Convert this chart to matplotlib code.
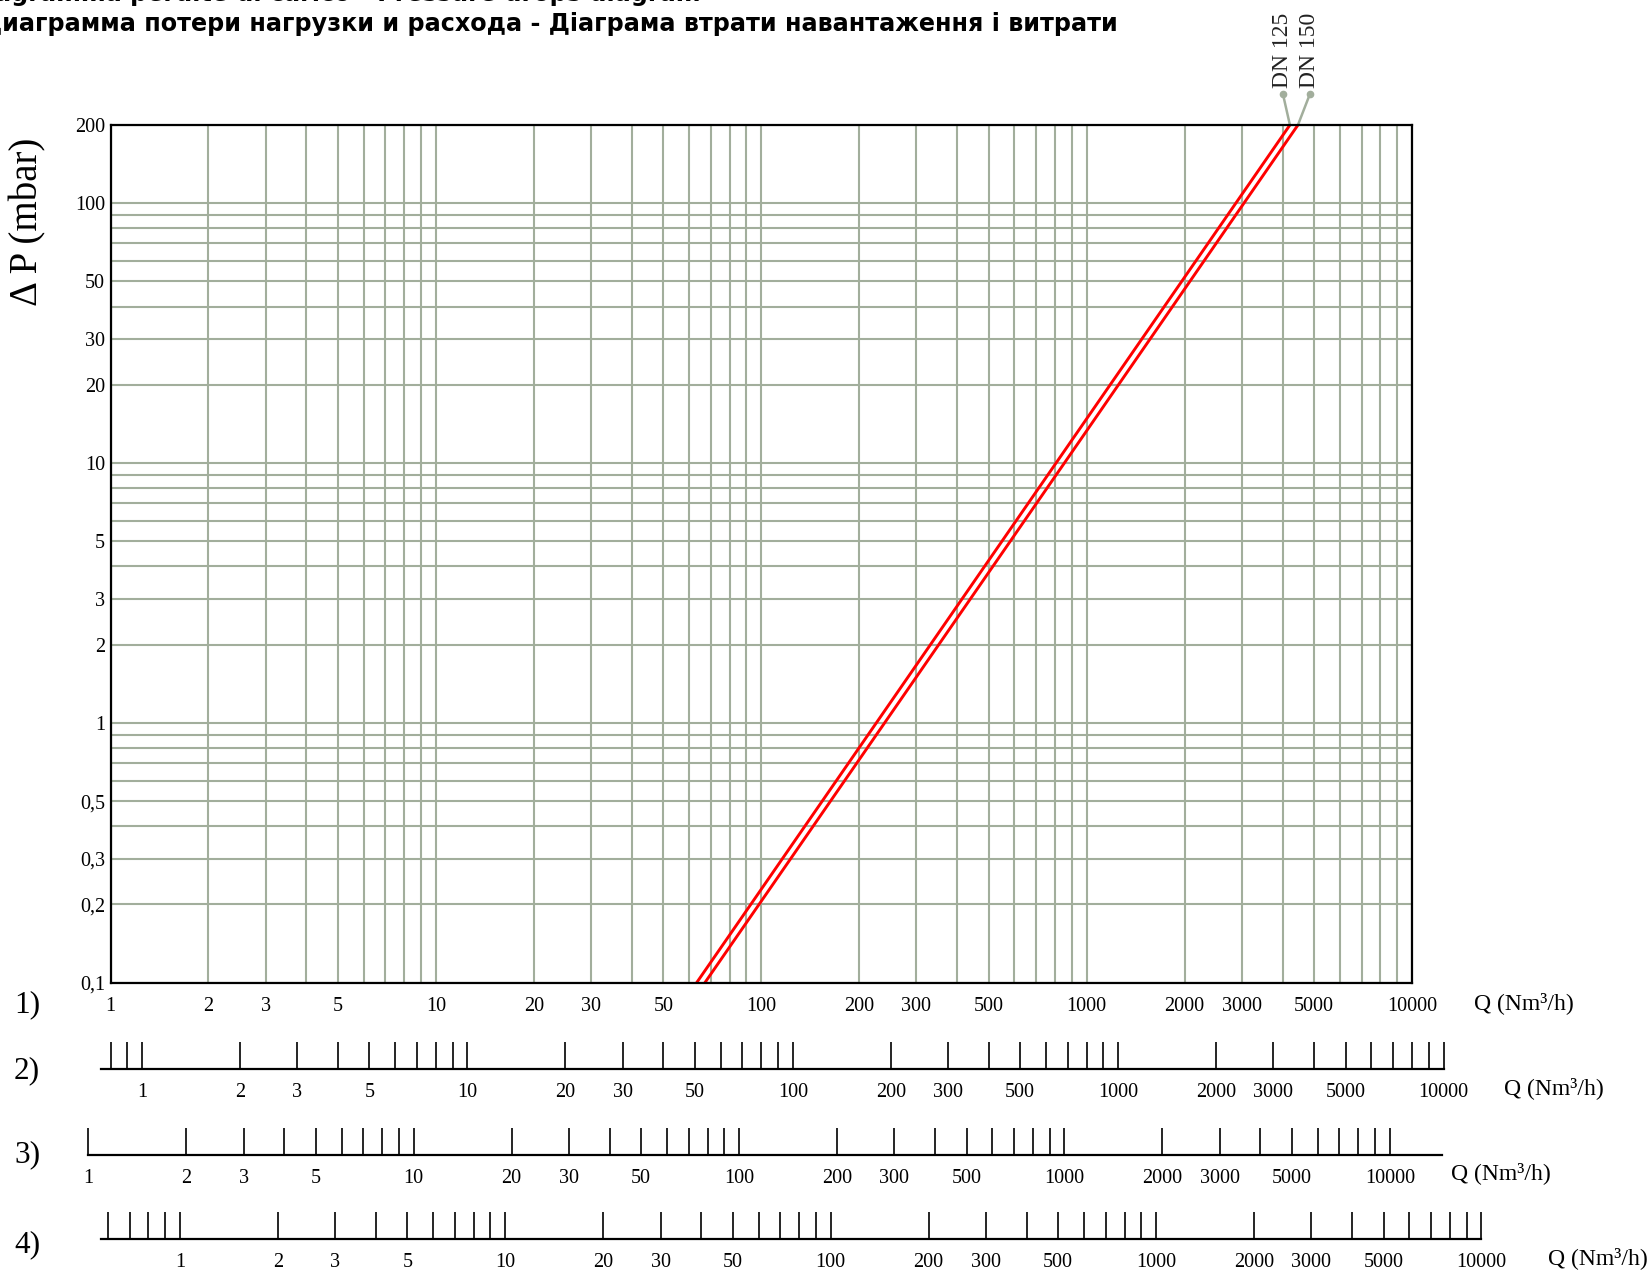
import math
import matplotlib.pyplot as plt
from matplotlib.ticker import NullFormatter
from matplotlib.transforms import ScaledTranslation

W, H, DPI = 1650, 1275, 100

# pressure drop lines (Q in Nm3/h, dP in mbar), read at the bottom edge, middle and top edge
q_dn125 = [63.3, 1000, 4215]
dp_dn125 = [0.1, 14.8, 200]
q_dn150 = [67.1, 1000, 4461]
dp_dn150 = [0.1, 13.3, 200]
dn_names = ['DN 125', 'DN 150']

# main chart ticks
x_major = [1, 2, 3, 5, 10, 20, 30, 50, 100, 200, 300, 500, 1000, 2000, 3000, 5000, 10000]
x_labels = ['1', '2', '3', '5', '10', '20', '30', '50', '100', '200', '300', '500',
            '1000', '2000', '3000', '5000', '10000']
y_major = [0.1, 0.2, 0.3, 0.5, 1, 2, 3, 5, 10, 20, 30, 50, 100, 200]
y_labels = ['0,1', '0,2', '0,3', '0,5', '1', '2', '3', '5', '10', '20', '30', '50', '100', '200']
sub = [4, 6, 7, 8, 9]
x_minor = [m * 10 ** e for e in range(4) for m in sub]
y_minor = [m * 10.0 ** e for e in range(-1, 2) for m in sub]

# secondary flow scales: main-chart Q sitting under the "1" of each scale
scale_names = ['2)', '3)', '4)']
scale_factor = [1.25, 0.855, 1.635]
scale_low_ticks = [[0.8, 0.9], [], [0.6, 0.7, 0.8, 0.9]]
scale_span = [(0.75, 10000), (1, 14500), (0.57, 10000)]

title_it = 'Diagramma perdite di carico - Pressure drops diagram'
title_ru = 'Диаграмма потери нагрузки и расхода - Діаграма втрати навантаження і витрати'

GRID = '#a2ae9c'
SERIF = ['Liberation Serif', 'DejaVu Serif']
plt.rcParams['font.family'] = SERIF


def fx(px):
    return px / W


def fy(py):
    return 1 - py / H


fig = plt.figure(figsize=(W / DPI, H / DPI), dpi=DPI)

# ---- main log-log chart
left, right, top, bottom = 110.5, 1412, 125, 982.7
ax = fig.add_axes([fx(left), fy(bottom), fx(right - left), (bottom - top) / H])
ax.set_xscale('log')
ax.set_yscale('log')
ax.set_xlim(1, 10000)
ax.set_ylim(0.1, 200)
ax.set_xticks(x_major, x_labels)
ax.set_xticks(x_minor, minor=True)
ax.set_yticks(y_major, y_labels)
ax.set_yticks(y_minor, minor=True)
ax.xaxis.set_minor_formatter(NullFormatter())
ax.yaxis.set_minor_formatter(NullFormatter())
ax.tick_params(which='both', length=0, labelsize=14.5)
ax.tick_params(axis='x', pad=10.5)
ax.tick_params(axis='y', pad=4)
ax.grid(which='both', color=GRID, lw=1.5)
ax.set_axisbelow(True)
for s in ax.spines.values():
    s.set_linewidth(1.6)
    s.set_zorder(5)

for q, dp in [(q_dn125, dp_dn125), (q_dn150, dp_dn150)]:
    ax.plot(q, dp, color='#ff0000', lw=2.1, zorder=4)

# leader lines with dots up to the DN labels
for q, name, dx in [(q_dn125[-1], dn_names[0], -7), (q_dn150[-1], dn_names[1], 12)]:
    off = ScaledTranslation(dx / DPI, 31 / DPI, fig.dpi_scale_trans)
    ax.annotate('', xy=(q, 200), xytext=(dx, 31), textcoords='offset pixels',
                arrowprops=dict(arrowstyle='-', color=GRID, lw=1.8, shrinkA=0, shrinkB=0),
                annotation_clip=False)
    ax.plot([q], [200], 'o', ms=4.5, color=GRID, transform=ax.transData + off, clip_on=False)
    ax.annotate(name, xy=(q, 200), xytext=(dx, 37), textcoords='offset pixels',
                rotation=90, ha='center', va='bottom', fontsize=17, color='#222222',
                annotation_clip=False)

fig.text(fx(28), fy(222), 'Δ P (mbar)', rotation=90, ha='center', va='center', fontsize=28)

# ---- extra flow scales under the chart
decade = (right - left) / 4
line_y = [1069.3, 1155, 1239.3]
for i, name in enumerate(scale_names):
    p1 = left + decade * math.log10(scale_factor[i])
    sx = fig.add_axes([0, fy(line_y[i]), 1, 30 / H])
    sx.set_xscale('log')
    sx.set_xlim(10 ** (-p1 / decade), 10 ** ((W - p1) / decade))
    sx.set_ylim(0, 1)
    sx.patch.set_visible(False)
    for k in ('left', 'right', 'top'):
        sx.spines[k].set_visible(False)
    sx.spines['bottom'].set_bounds(*scale_span[i])
    sx.spines['bottom'].set_linewidth(1.6)
    sx.set_yticks([])
    sx.set_xticks(x_major, x_labels)
    sx.set_xticks(scale_low_ticks[i] + x_minor, minor=True)
    sx.xaxis.set_minor_formatter(NullFormatter())
    sx.tick_params(axis='x', which='both', direction='in', length=19.4, width=1.2,
                   pad=10, labelsize=14.5)

# row numbers and unit labels
row_y = [1005, 1071, 1155, 1245]
for y, name in zip(row_y, ['1)'] + scale_names):
    fig.text(fx(27), fy(y), name, ha='center', va='center', fontsize=22.5)
unit_pos = [(1474, 1003), (1504, 1088), (1450.7, 1173), (1548, 1258)]
for x, y in unit_pos:
    fig.text(fx(x), fy(y), 'Q (Nm³/h)', ha='left', va='center', fontsize=17)

# title, cropped at the top-left as in the original sheet
fig.text(fx(-33), fy(1.5), title_it, ha='left', va='baseline', fontsize=17.2,
         fontweight='bold', family='DejaVu Sans')
fig.text(fx(-19), fy(30.5), title_ru, ha='left', va='baseline', fontsize=17.2,
         fontweight='bold', family='DejaVu Sans')

fig.savefig('out.png', dpi=DPI)
